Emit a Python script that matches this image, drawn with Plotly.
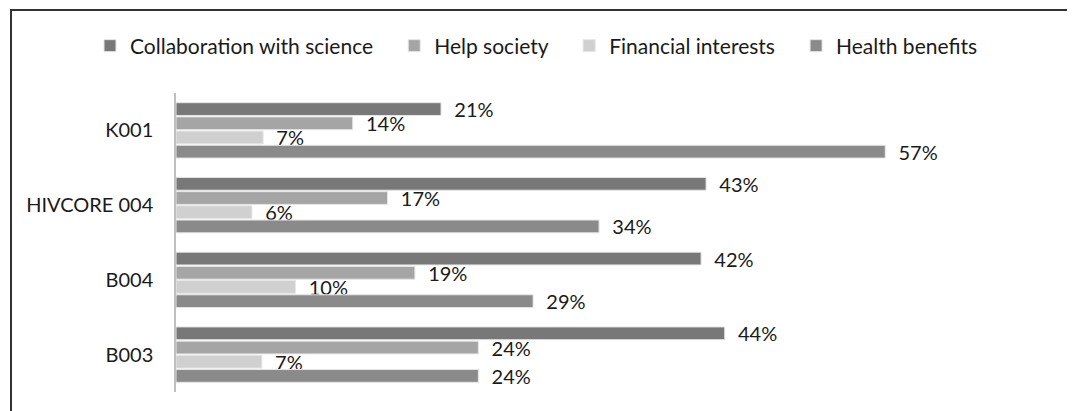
import plotly.graph_objects as go

categories = ["K001", "HIVCORE 004", "B004", "B003"]
series_names = ["Collaboration with science", "Help society", "Financial interests", "Health benefits"]
# bar lengths (labels show them rounded)
collaboration = [21.3, 42.6, 42.2, 44.1]
help_society = [14.2, 17.0, 19.2, 24.3]
financial = [7.0, 6.1, 9.6, 6.9]
health = [57.0, 34.0, 28.7, 24.3]
colors = ["#787878", "#a5a5a5", "#d0d0d0", "#8a8a8a"]

values = [collaboration, help_society, financial, health]

FONT = "Lato"
fig = go.Figure()
for name, vals, col in zip(series_names, values, colors):
    fig.add_trace(go.Bar(
        y=categories, x=vals, name=name + "\u00a0" * 3, orientation="h",
        marker=dict(color=col, line=dict(color="#e6e6e6", width=1)),
        texttemplate="\u00a0\u00a0%{x:.0f}%", textposition="outside", constraintext="none",
        textfont=dict(family=FONT, size=20, color="#1a1a1a"),
        cliponaxis=False,
    ))

# page is drawn with an 8px body margin
W, H = 1067, 403
L, R, T, B = 168, 28, 85, 19
pw = W - L - R
ph = H - T - B

fig.update_layout(
    width=W, height=H,
    margin=dict(l=L, r=R, t=T, b=B),
    barmode="group", bargap=0.24, bargroupgap=0.1,
    plot_bgcolor="white", paper_bgcolor="white",
    font=dict(family=FONT, size=20, color="#1a1a1a"),
    legend=dict(orientation="h", x=(82 - L) / pw, xanchor="left", y=1 + (T - 38) / ph, yanchor="middle",
                font=dict(family=FONT, size=21, color="#1a1a1a"), traceorder="normal",
                itemwidth=30),
    xaxis=dict(range=[0, 70], showgrid=False, zeroline=False, showticklabels=False, showline=False),
    yaxis=dict(autorange="reversed", showgrid=False, showline=True, linecolor="#bfbfbf", linewidth=1.5,
               ticks="", ticklabelstandoff=17, tickfont=dict(family=FONT, size=20, color="#1a1a1a")),
    showlegend=True,
)

fig.add_shape(type="rect", xref="paper", yref="paper",
              x0=(3 - L) / pw, x1=(1060 - L) / pw,
              y0=-(B + 20) / ph, y1=1 + (T - 2) / ph,
              line=dict(color="#333333", width=2), fillcolor="rgba(0,0,0,0)", layer="above")

fig.write_html("out.html")
